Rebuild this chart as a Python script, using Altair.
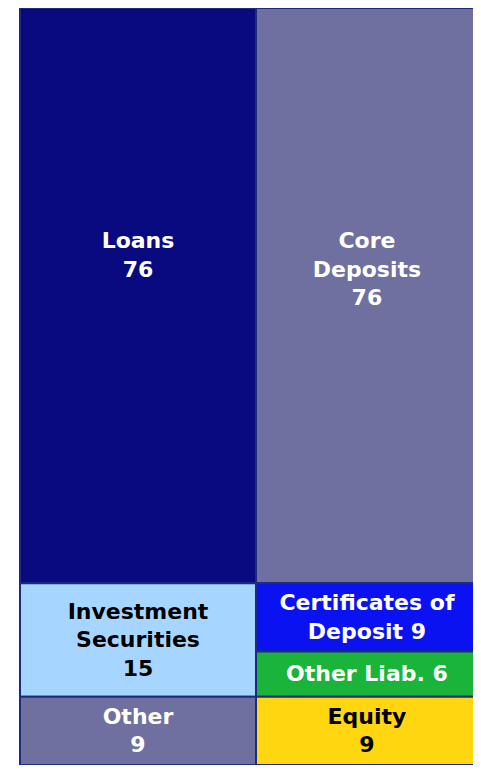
import altair as alt
import pandas as pd

# ---- data ----
columns = ["Assets", "Liabilities"]

asset_names = ["Loans", "Investment\nSecurities", "Other"]
asset_values = [76, 15, 9]
asset_joiners = ["\n", "\n", "\n"]
asset_colors = ["#0a0a80", "#a6d6ff", "#7070a0"]
asset_text_colors = ["#ffffff", "#000000", "#ffffff"]

liab_names = ["Core\nDeposits", "Certificates of\nDeposit", "Other Liab.", "Equity"]
liab_values = [76, 9, 6, 9]
liab_joiners = ["\n", " ", " ", "\n"]
liab_colors = ["#7070a0", "#0a12f2", "#1ab43a", "#ffd60f"]
liab_text_colors = ["#ffffff", "#ffffff", "#ffffff", "#000000"]

# ---- build table ----
rows = []
groups = [
    (asset_names, asset_values, asset_joiners, asset_colors, asset_text_colors),
    (liab_names, liab_values, liab_joiners, liab_colors, liab_text_colors),
]
for ci, (names, vals, joins, cols, tcols) in enumerate(groups):
    acc = 0
    for n, v, j, c, t in zip(names, vals, joins, cols, tcols):
        rows.append(dict(
            column=columns[ci], col=ci, name=n, value=v,
            start=acc, end=acc + v,
            label=f"{n}{j}{v}", color=c, tcolor=t,
        ))
        acc += v
df = pd.DataFrame(rows)

W, H = 465, 757
x_scale = alt.Scale(domain=[-12 / 236, (W - 12) / 236], nice=False, zero=False)
y_scale = alt.Scale(domain=[0, 100], reverse=True, nice=False, zero=False)

base = alt.Chart(df).transform_calculate(
    x0="datum.col",
    x1="datum.col + 1",
    lx="datum.col + (datum.col == 1 ? 0.47 : 0.5)",
    mid="(datum.start + datum.end) / 2",
    nlines="length(split(datum.label, '\\n'))",
)

rects = base.mark_rect(stroke="#1c2a80", strokeWidth=2, clip=True).encode(
    x=alt.X("x0:Q", scale=x_scale, axis=None),
    x2="x1:Q",
    y=alt.Y("start:Q", scale=y_scale, axis=None),
    y2="end:Q",
    color=alt.Color("color:N", scale=None),
)

LH = 28.5
text_props = dict(
    font="DejaVu Sans", fontWeight="bold", fontSize=22,
    lineBreak="\n", lineHeight=LH, align="center", clip=True,
)

layers = [rects]
for n in (1, 2, 3):
    layers.append(
        base.transform_filter(f"datum.value < 50 && datum.nlines == {n}")
        .mark_text(baseline="middle", dy=-(n - 1) * LH / 2, **text_props)
        .encode(
            x=alt.X("lx:Q", scale=x_scale, axis=None),
            y=alt.Y("mid:Q", scale=y_scale, axis=None),
            text="label:N",
            color=alt.Color("tcolor:N", scale=None),
        )
    )

layers.append(
    base.transform_filter("datum.value >= 50")
    .mark_text(baseline="top", dy=223, **text_props)
    .encode(
        x=alt.X("lx:Q", scale=x_scale, axis=None),
        y=alt.Y("start:Q", scale=y_scale, axis=None),
        text="label:N",
        color=alt.Color("tcolor:N", scale=None),
    )
)

chart = (
    alt.layer(*layers)
    .properties(
        width=W, height=H, padding=0, background="white",
        autosize=alt.AutoSizeParams(type="none"),
    )
    .configure_view(stroke=None)
)

chart.save("out.html", embed_options={"renderer": "svg", "actions": False})
